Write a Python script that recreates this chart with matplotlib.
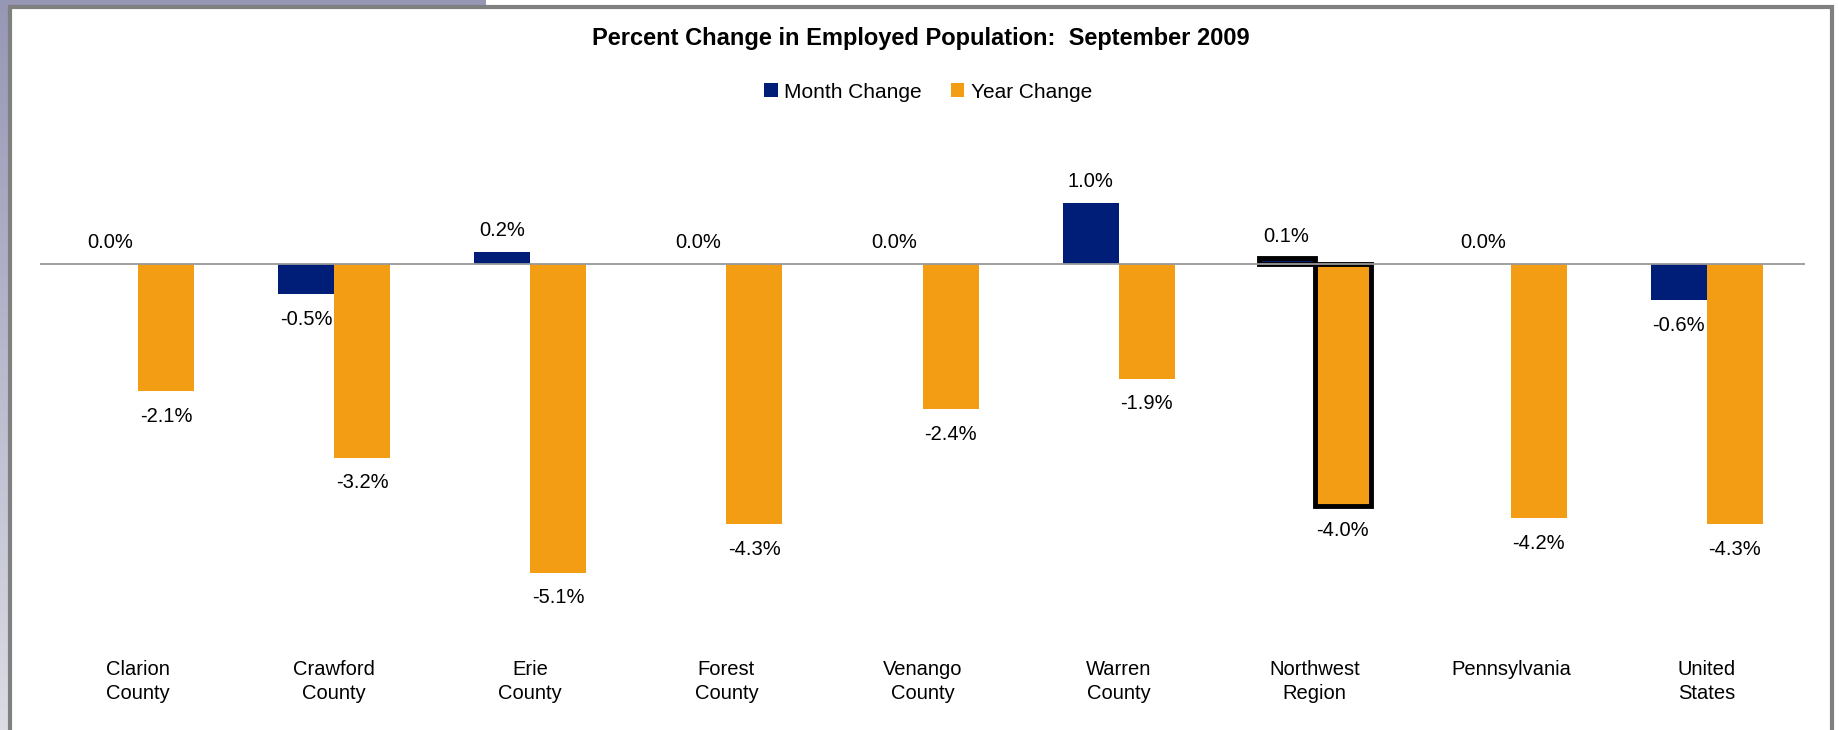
import numpy as np
import matplotlib.pyplot as plt
from matplotlib.patches import Rectangle

plt.rcParams['font.family'] = ['Liberation Sans', 'DejaVu Sans']

categories = ['Clarion\nCounty', 'Crawford\nCounty', 'Erie\nCounty', 'Forest\nCounty',
              'Venango\nCounty', 'Warren\nCounty', 'Northwest\nRegion', 'Pennsylvania',
              'United\nStates']
month_change = [0.0, -0.5, 0.2, 0.0, 0.0, 1.0, 0.1, 0.0, -0.6]
year_change = [-2.1, -3.2, -5.1, -4.3, -2.4, -1.9, -4.0, -4.2, -4.3]
highlight = 'Northwest\nRegion'

navy = '#001E78'
orange = '#F29D13'

W, H = 1839, 730
fig = plt.figure(figsize=(W / 100, H / 100), dpi=100)

# background strips outside the frame
bg = fig.add_axes([0, 0, 9 / W, 1], zorder=-5)
grad = np.linspace(0, 1, 256).reshape(-1, 1)
bg.imshow(grad, aspect='auto', cmap=plt.matplotlib.colors.LinearSegmentedColormap.from_list(
    'g', ['#9597b5', '#dcdce4']), extent=[0, 1, 0, 1])
bg.axis('off')
top = fig.add_axes([0, 1 - 6 / H, 486 / W, 6 / H], zorder=-5)
top.set_facecolor('#9597b5')
top.set_xticks([])
top.set_yticks([])
for s in top.spines.values():
    s.set_visible(False)

fig.add_artist(Rectangle((10 / W, -0.1), (1832 - 10) / W, 1.1 - 7 / H,
                         transform=fig.transFigure, fill=False,
                         edgecolor='#808080', linewidth=3))

# plot area
px_top, px_bot, px_zero, scale = 140, 650, 264, 60.5
ax = fig.add_axes([40 / W, 1 - px_bot / H, (1805 - 40) / W, (px_bot - px_top) / H])
ax.set_ylim(-(px_bot - px_zero) / scale, (px_zero - px_top) / scale)
ax.set_xlim(-0.5, len(categories) - 0.5)

x = np.arange(len(categories))
bw = 0.286
edges = [3.5 if c == highlight else 0 for c in categories]
mb = ax.bar(x - bw / 2, month_change, bw, color=navy, edgecolor='black',
            linewidth=edges, label='Month Change', zorder=2)
yb = ax.bar(x + bw / 2, year_change, bw, color=orange, edgecolor='black',
            linewidth=edges, label='Year Change', zorder=2)
ax.axhline(0, color='#999999', linewidth=1.3, zorder=3)

for bars, vals in ((mb, month_change), (yb, year_change)):
    for b, v in zip(bars, vals):
        cx = b.get_x() + b.get_width() / 2
        off = 15.5 if v >= 0 else -18
        ax.annotate(f'{v:.1f}%', (cx, v), xytext=(0, off), textcoords='offset points',
                    ha='center', va='center', fontsize=14.5)

ax.set_xticks(x)
ax.set_xticklabels(categories, fontsize=14.5, linespacing=1.3)
ax.tick_params(axis='x', length=0, pad=7.5)
ax.set_yticks([])
for s in ax.spines.values():
    s.set_visible(False)

fig.text(921 / W, 1 - 39 / H, 'Percent Change in Employed Population:  September 2009',
         ha='center', va='center', fontsize=17, fontweight='bold')
fig.legend(handles=[mb, yb], loc='center', bbox_to_anchor=(928 / W, 1 - 92 / H),
           ncol=2, frameon=False, fontsize=15, handlelength=0.65, handleheight=0.65,
           handletextpad=0.3, columnspacing=1.4)

fig.savefig('out.png', dpi=100)
